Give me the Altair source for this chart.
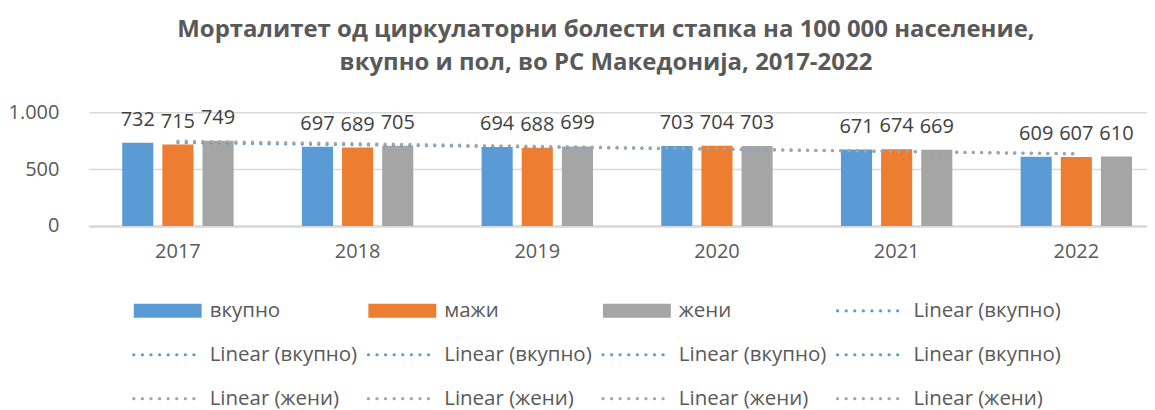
import altair as alt
import pandas as pd

years = [2017, 2018, 2019, 2020, 2021, 2022]
series = ["вкупно", "мажи", "жени"]
vals_total = [732, 697, 694, 703, 671, 609]
vals_men = [715, 689, 688, 704, 674, 607]
vals_women = [749, 705, 699, 703, 669, 610]
colors = ["#5B9BD5", "#ED7D31", "#A5A5A5"]
title_lines = [
    "Морталитет од циркулаторни болести стапка на 100 000 население,",
    "вкупно и пол, во РС Македонија, 2017-2022",
]
trend_series = ["вкупно", "жени"]
legend_labels = ["вкупно", "мажи", "жени", "Linear (вкупно)",
                 "Linear (вкупно)", "Linear (вкупно)", "Linear (вкупно)", "Linear (вкупно)",
                 "Linear (жени)", "Linear (жени)", "Linear (жени)", "Linear (жени)"]
legend_series = ["вкупно", "мажи", "жени", "вкупно",
                 "вкупно", "вкупно", "вкупно", "вкупно",
                 "жени", "жени", "жени", "жени"]
legend_kind = ["bar", "bar", "bar", "trend"] + ["trend"] * 8

FONT = "Open Sans"
TXT = "#595959"

rows = []
for s, vals in zip(series, [vals_total, vals_men, vals_women]):
    for y, v in zip(years, vals):
        rows.append({"yr": y, "series": s, "value": v})
df = pd.DataFrame(rows)

leg_df = pd.DataFrame({
    "label": legend_labels,
    "series": legend_series,
    "kind": legend_kind,
    "row": [i // 4 for i in range(len(legend_labels))],
    "col": [i % 4 for i in range(len(legend_labels))],
})

color = alt.Color("series:N", scale=alt.Scale(domain=series, range=colors), legend=None)

x_enc = alt.X(
    "yr:O",
    title=None,
    scale=alt.Scale(paddingInner=0.38, paddingOuter=0.1345, align=0.69),
    axis=alt.Axis(labelAngle=0, ticks=False, domainColor="#d9d9d9", domainWidth=2.5,
                  labelFontSize=20, labelColor=TXT, labelFont=FONT, labelPadding=16),
)
y_enc = alt.Y(
    "value:Q",
    title=None,
    scale=alt.Scale(domain=[0, 1000], nice=False),
    axis=alt.Axis(values=[0, 500, 1000], domain=False, ticks=False, gridColor="#d9d9d9",
                  gridWidth=1.5, labelFontSize=20, labelColor=TXT, labelFont=FONT,
                  labelPadding=30,
                  labelExpr="replace(format(datum.value, ','), ',', '.')"),
)
xoff = alt.XOffset("series:N", sort=series, scale=alt.Scale(paddingInner=0.225))

base = alt.Chart(df)
bars = base.mark_bar().encode(x=x_enc, y=y_enc, xOffset=xoff, color=color)
labels = base.mark_text(baseline="alphabetic", dy=-17, fontSize=20, font=FONT,
                        color="#404040").encode(
    x=x_enc, y=y_enc, xOffset=xoff, text="value:Q")
trend = base.transform_filter(
    alt.FieldOneOfPredicate(field="series", oneOf=trend_series)
).transform_regression("yr", "value", groupby=["series"], method="linear").mark_line(
    strokeDash=[0.1, 8.2], strokeCap="round", strokeWidth=3.2
).encode(x="yr:O", y="value:Q", color=color)

main = alt.layer(bars, labels, trend)

lx = alt.X("col:Q", scale=alt.Scale(domain=[0, 4], range=[45, 985], zero=False, nice=False), axis=None)
ly = alt.Y("row:Q", scale=alt.Scale(domain=[0, 2], range=[199, 287], zero=False, nice=False), axis=None)
leg = alt.Chart(leg_df)
leg_bar = leg.transform_filter(alt.datum.kind == "bar").transform_calculate(
    x2="datum.col + 68/235").mark_rule(strokeWidth=14, strokeCap="butt").encode(
    x=lx, x2="x2:Q", y=ly, color=color)
leg_trend = leg.transform_filter(alt.datum.kind == "trend").transform_calculate(
    x2="datum.col + 68/235").mark_rule(strokeWidth=3.2, strokeCap="round",
                                       strokeDash=[0.1, 8.5]).encode(
    x=lx, x2="x2:Q", y=ly, color=color)
leg_text = leg.mark_text(align="left", baseline="middle", dx=76, fontSize=20.5, font=FONT,
                         color=TXT).encode(x=lx, y=ly, text="label:N")
legend = alt.layer(leg_bar, leg_trend, leg_text)

chart = alt.layer(main, legend).resolve_scale(x="independent", y="independent").properties(
    width=1060, height=114,
    padding={"left": 0, "top": 10, "right": 0, "bottom": 8},
    title=alt.TitleParams(text=title_lines, fontSize=24, fontWeight="bold", color=TXT,
                          font=FONT, lineHeight=33, anchor="middle", dx=-12, offset=27),
).configure_view(stroke=None)

chart.save("out.html", embed_options={"renderer": "svg", "actions": False})
